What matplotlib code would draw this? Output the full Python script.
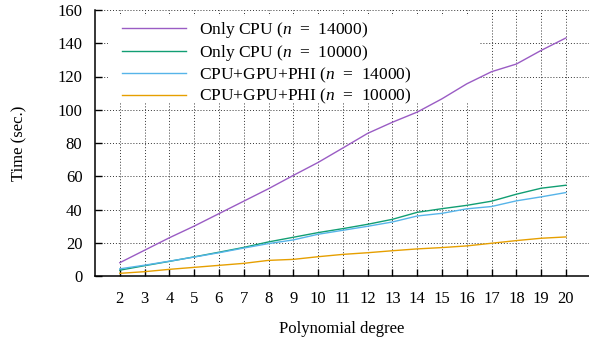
import numpy as np
import matplotlib
matplotlib.use('Agg')
import matplotlib.pyplot as plt
from matplotlib.patches import Rectangle

# data
degree = list(range(2, 21))
cpu_14000 = [8.0, 15.5, 23.0, 30.0, 37.5, 45.0, 52.5, 60.5, 68.3, 77.0,
             85.8, 92.5, 98.6, 106.6, 115.6, 122.9, 127.5, 135.7, 143.2]
cpu_10000 = [3.5, 6.2, 8.8, 11.5, 14.3, 17.2, 20.5, 23.3, 26.1, 28.5,
             31.1, 34.1, 38.3, 40.5, 42.5, 45.0, 49.2, 52.8, 54.6]
hyb_14000 = [4.3, 6.5, 8.9, 11.4, 14.0, 16.8, 19.5, 21.7, 25.1, 27.5,
             29.9, 32.5, 36.1, 37.7, 40.4, 41.8, 45.2, 47.6, 50.2]
hyb_10000 = [1.6, 2.6, 4.0, 5.2, 6.4, 7.6, 9.4, 10.0, 11.6, 13.0,
             14.0, 15.2, 16.3, 17.1, 18.1, 19.7, 21.3, 22.7, 23.5]

labels = [r'Only CPU ($n$  =  14000)', r'Only CPU ($n$  =  10000)',
          r'CPU+GPU+PHI ($n$  =  14000)', r'CPU+GPU+PHI ($n$  =  10000)']
colors = ['#9a5cc4', '#119e73', '#56b4e9', '#e69f00']

plt.rcParams['font.family'] = ['Liberation Serif', 'DejaVu Serif']
plt.rcParams['mathtext.fontset'] = 'custom'
plt.rcParams['mathtext.rm'] = 'Liberation Serif'
plt.rcParams['mathtext.it'] = 'Liberation Serif:italic'
plt.rcParams['font.size'] = 12

fig = plt.figure(figsize=(5.89, 3.45), dpi=100)
ax = fig.add_axes([95/589, 1 - 276/345, 494/589, 266/345])

series = [cpu_14000, cpu_10000, hyb_14000, hyb_10000]
for vals, lab, col in zip(series, labels, colors):
    ax.plot(degree, vals, color=col, lw=1.0, label=lab, zorder=3)

ax.set_xlim(1, 20.93)
ax.set_ylim(0, 160)
ax.set_xticks(degree)
ax.set_yticks(range(0, 161, 20))
ax.tick_params(direction='in', length=5, width=1, colors='black')
ax.tick_params(axis='x', pad=11)
ax.tick_params(axis='y', pad=9)
ax.set_axisbelow(True)
ax.grid(True, color='#333333', linestyle=(0, (1, 2)), lw=0.7)

for s in ['top', 'right']:
    ax.spines[s].set_visible(False)
for s in ['left', 'bottom']:
    ax.spines[s].set_linewidth(1.1)

# white box behind the key, as in the original
ax.add_patch(Rectangle((0.026, 0.65), 0.753, 0.327, transform=ax.transAxes,
                       facecolor='white', edgecolor='none', zorder=1))

ax.legend(loc='upper left', bbox_to_anchor=(0.055, 0.962), frameon=False,
          borderpad=0, borderaxespad=0, handlelength=3.7, handletextpad=0.75,
          labelspacing=0.15, fontsize=12.5)

ax.set_xlabel('Polynomial degree', labelpad=10)
ax.set_ylabel('Time (sec.)', labelpad=22)

fig.savefig('out.png', dpi=100)
